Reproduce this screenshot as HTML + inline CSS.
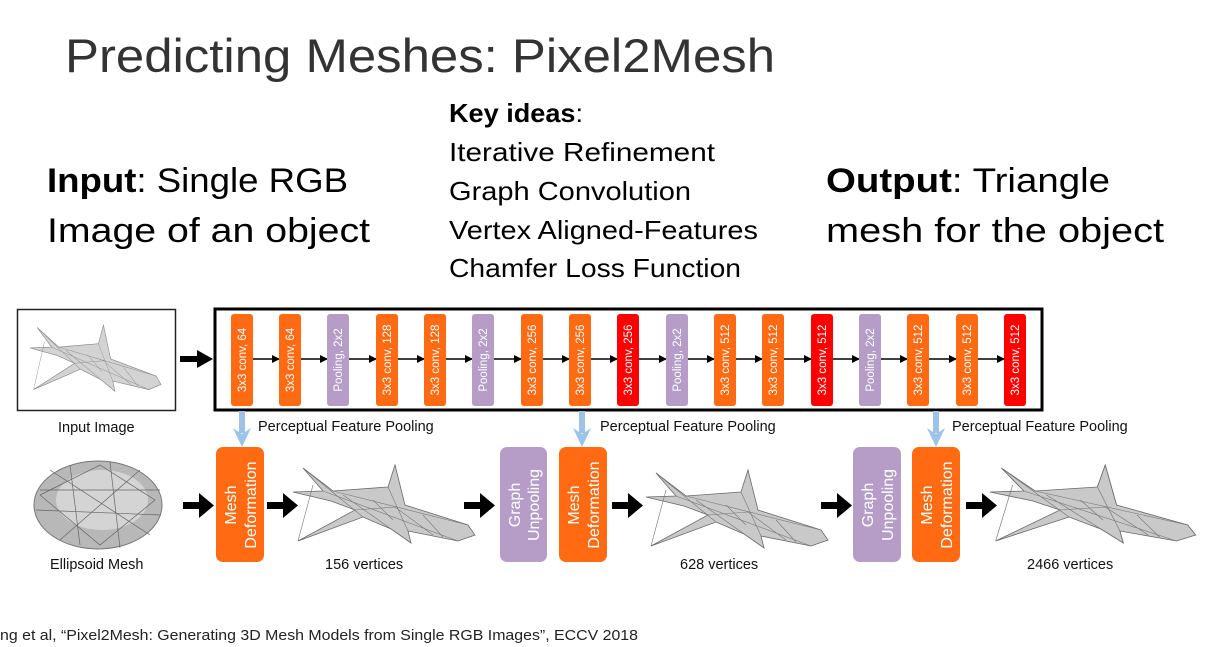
<!DOCTYPE html>
<html><head><meta charset="utf-8"><style>
html,body{margin:0;padding:0;background:#fff;}
svg{display:block;}
</style></head><body>
<svg width="1230" height="647" viewBox="0 0 1230 647" xmlns="http://www.w3.org/2000/svg" font-family="Liberation Sans, sans-serif">
<defs>
<g id="plane">
<path d="M10,3 L40,26 L95,22 L102,0 L112,40 L175,60 L182,70 L165,76 L115,66 L118,78 L98,64 L70,52 L5,76 L62,45 L38,36 L0,27 L30,26 Z" fill="#c9c9c9" stroke="#6a6a6a" stroke-width="0.8"/>
<path d="M10,3 L70,52 M40,26 L175,60 M30,26 L165,76 M95,22 L115,66 M62,45 L102,42 L140,70 M20,20 L5,76 M50,30 L118,78 M80,35 L100,55 M130,50 L150,72" stroke="#777" stroke-width="0.6" fill="none"/>
</g>
<marker id="ah" markerWidth="8" markerHeight="8" refX="7" refY="4" orient="auto" markerUnits="userSpaceOnUse"><path d="M0,0 L8,4 L0,8 Z" fill="#000"/></marker>
</defs>

<text x="65" y="72" font-size="47" fill="#333" textLength="710" lengthAdjust="spacingAndGlyphs">Predicting Meshes: Pixel2Mesh</text>

<text x="47" y="192" font-size="34" fill="#000" textLength="301" lengthAdjust="spacingAndGlyphs"><tspan font-weight="bold">Input</tspan>: Single RGB</text>
<text x="47" y="242" font-size="34" fill="#000" textLength="323" lengthAdjust="spacingAndGlyphs">Image of an object</text>

<text x="449" y="122" font-size="26" fill="#000" textLength="134" lengthAdjust="spacingAndGlyphs"><tspan font-weight="bold">Key ideas</tspan>:</text>
<text x="449" y="161" font-size="26" textLength="266" lengthAdjust="spacingAndGlyphs">Iterative Refinement</text>
<text x="449" y="200" font-size="26" textLength="242" lengthAdjust="spacingAndGlyphs">Graph Convolution</text>
<text x="449" y="239" font-size="26" textLength="309" lengthAdjust="spacingAndGlyphs">Vertex Aligned-Features</text>
<text x="449" y="277" font-size="26" textLength="292" lengthAdjust="spacingAndGlyphs">Chamfer Loss Function</text>

<text x="826" y="192" font-size="34" fill="#000" textLength="284" lengthAdjust="spacingAndGlyphs"><tspan font-weight="bold">Output</tspan>: Triangle</text>
<text x="826" y="242" font-size="34" fill="#000" textLength="338" lengthAdjust="spacingAndGlyphs">mesh for the object</text>

<!-- input image -->
<rect x="17.5" y="309.5" width="158" height="101" fill="#fff" stroke="#222" stroke-width="1.5"/>
<g transform="translate(30,325) scale(0.72,0.85)" opacity="0.8"><use href="#plane"/></g>
<text x="58" y="432" font-size="14.5" fill="#111">Input Image</text>

<!-- big box -->
<rect x="215" y="309" width="827" height="101" fill="#fff" stroke="#000" stroke-width="3"/>
<path d="M180,359 L200,359" stroke="#000" stroke-width="6"/><path d="M197,350 L213,359 L197,368 Z" fill="#000"/>

<g stroke="#000" stroke-width="1.6" marker-end="url(#ah)">
<line x1="253" y1="359" x2="279" y2="359"/><line x1="301" y1="359" x2="327" y2="359"/><line x1="349" y1="359" x2="376" y2="359"/><line x1="398" y1="359" x2="424" y2="359"/><line x1="446" y1="359" x2="472" y2="359"/><line x1="494" y1="359" x2="521" y2="359"/><line x1="543" y1="359" x2="569" y2="359"/><line x1="591" y1="359" x2="617" y2="359"/><line x1="639" y1="359" x2="666" y2="359"/><line x1="688" y1="359" x2="714" y2="359"/><line x1="736" y1="359" x2="762" y2="359"/><line x1="784" y1="359" x2="811" y2="359"/><line x1="833" y1="359" x2="859" y2="359"/><line x1="881" y1="359" x2="907" y2="359"/><line x1="929" y1="359" x2="956" y2="359"/><line x1="978" y1="359" x2="1004" y2="359"/>
</g>
<g font-size="11.5" fill="#fff" text-anchor="middle">
<rect x="231" y="314" width="22" height="92" rx="3" fill="#ff6a13"/><text transform="translate(246,360) rotate(-90)">3x3 conv, 64</text>
<rect x="279" y="314" width="22" height="92" rx="3" fill="#ff6a13"/><text transform="translate(294,360) rotate(-90)">3x3 conv, 64</text>
<rect x="327" y="314" width="22" height="92" rx="3" fill="#b59dc8"/><text transform="translate(342,360) rotate(-90)">Pooling, 2x2</text>
<rect x="376" y="314" width="22" height="92" rx="3" fill="#ff6a13"/><text transform="translate(391,360) rotate(-90)">3x3 conv, 128</text>
<rect x="424" y="314" width="22" height="92" rx="3" fill="#ff6a13"/><text transform="translate(439,360) rotate(-90)">3x3 conv, 128</text>
<rect x="472" y="314" width="22" height="92" rx="3" fill="#b59dc8"/><text transform="translate(487,360) rotate(-90)">Pooling, 2x2</text>
<rect x="521" y="314" width="22" height="92" rx="3" fill="#ff6a13"/><text transform="translate(536,360) rotate(-90)">3x3 conv, 256</text>
<rect x="569" y="314" width="22" height="92" rx="3" fill="#ff6a13"/><text transform="translate(584,360) rotate(-90)">3x3 conv, 256</text>
<rect x="617" y="314" width="22" height="92" rx="3" fill="#ff0000"/><text transform="translate(632,360) rotate(-90)">3x3 conv, 256</text>
<rect x="666" y="314" width="22" height="92" rx="3" fill="#b59dc8"/><text transform="translate(681,360) rotate(-90)">Pooling, 2x2</text>
<rect x="714" y="314" width="22" height="92" rx="3" fill="#ff6a13"/><text transform="translate(729,360) rotate(-90)">3x3 conv, 512</text>
<rect x="762" y="314" width="22" height="92" rx="3" fill="#ff6a13"/><text transform="translate(777,360) rotate(-90)">3x3 conv, 512</text>
<rect x="811" y="314" width="22" height="92" rx="3" fill="#ff0000"/><text transform="translate(826,360) rotate(-90)">3x3 conv, 512</text>
<rect x="859" y="314" width="22" height="92" rx="3" fill="#b59dc8"/><text transform="translate(874,360) rotate(-90)">Pooling, 2x2</text>
<rect x="907" y="314" width="22" height="92" rx="3" fill="#ff6a13"/><text transform="translate(922,360) rotate(-90)">3x3 conv, 512</text>
<rect x="956" y="314" width="22" height="92" rx="3" fill="#ff6a13"/><text transform="translate(971,360) rotate(-90)">3x3 conv, 512</text>
<rect x="1004" y="314" width="22" height="92" rx="3" fill="#ff0000"/><text transform="translate(1019,360) rotate(-90)">3x3 conv, 512</text>
</g>

<!-- blue arrows -->
<g fill="#9dc3e6">
<rect x="239" y="411" width="6" height="22"/><path d="M233,428 L242,447 L251,428 L242,434 Z"/>
<rect x="579" y="411" width="6" height="22"/><path d="M573,428 L582,447 L591,428 L582,434 Z"/>
<rect x="933" y="411" width="6" height="22"/><path d="M927,428 L936,447 L945,428 L936,434 Z"/>
</g>
<g font-size="14.5" fill="#111">
<text x="258" y="431">Perceptual Feature Pooling</text>
<text x="600" y="431">Perceptual Feature Pooling</text>
<text x="952" y="431">Perceptual Feature Pooling</text>
</g>

<!-- ellipsoid -->
<ellipse cx="98" cy="505" rx="64" ry="44" fill="#b8b8b8" stroke="#777"/>
<ellipse cx="102" cy="500" rx="46" ry="30" fill="#d4d4d4"/>
<path d="M40,490 L160,490 M36,510 L160,515 M50,470 L150,535 M70,465 L80,545 M110,462 L120,548 M140,470 L60,540 M40,495 L100,465 L155,500 L100,545 Z" stroke="#666" stroke-width="0.7" fill="none"/>
<text x="50" y="569" font-size="14.5" fill="#111">Ellipsoid Mesh</text>

<!-- mesh deformation boxes -->
<g font-size="16" fill="#fff" text-anchor="middle">
<rect x="216" y="447" width="48" height="115" rx="7" fill="#ff6a13"/><text transform="translate(236,505) rotate(-90)">Mesh</text><text transform="translate(256,505) rotate(-90)">Deformation</text>
<rect x="500" y="447" width="47" height="115" rx="7" fill="#b59dc8"/><text transform="translate(520,505) rotate(-90)">Graph</text><text transform="translate(539,505) rotate(-90)">Unpooling</text>
<rect x="559" y="447" width="48" height="115" rx="7" fill="#ff6a13"/><text transform="translate(579,505) rotate(-90)">Mesh</text><text transform="translate(599,505) rotate(-90)">Deformation</text>
<rect x="853" y="447" width="48" height="115" rx="7" fill="#b59dc8"/><text transform="translate(873,505) rotate(-90)">Graph</text><text transform="translate(893,505) rotate(-90)">Unpooling</text>
<rect x="912" y="447" width="48" height="115" rx="7" fill="#ff6a13"/><text transform="translate(932,505) rotate(-90)">Mesh</text><text transform="translate(952,505) rotate(-90)">Deformation</text>
</g>

<!-- black arrows -->
<g fill="#000">
<rect x="183" y="502" width="18" height="7"/><path d="M199,493 L214,505.5 L199,518 Z"/>
<rect x="267" y="502" width="18" height="7"/><path d="M283,493 L298,505.5 L283,518 Z"/>
<rect x="464" y="502" width="18" height="7"/><path d="M480,493 L495,505.5 L480,518 Z"/>
<rect x="612" y="502" width="18" height="7"/><path d="M628,493 L643,505.5 L628,518 Z"/>
<rect x="821" y="502" width="18" height="7"/><path d="M837,493 L852,505.5 L837,518 Z"/>
<rect x="966" y="502" width="18" height="7"/><path d="M982,493 L997,505.5 L982,518 Z"/>
</g>

<!-- planes -->
<g transform="translate(293,465)"><use href="#plane"/></g>
<g transform="translate(646,470)"><use href="#plane"/></g>
<g transform="translate(990,465) scale(1.13,1.0)"><use href="#plane"/></g>

<g font-size="14.5" fill="#111">
<text x="325" y="569">156 vertices</text>
<text x="680" y="569">628 vertices</text>
<text x="1027" y="569">2466 vertices</text>
</g>

<text x="0" y="640" font-size="15" fill="#222" textLength="638" lengthAdjust="spacingAndGlyphs">ng et al, “Pixel2Mesh: Generating 3D Mesh Models from Single RGB Images”, ECCV 2018</text>
</svg>
</body></html>
